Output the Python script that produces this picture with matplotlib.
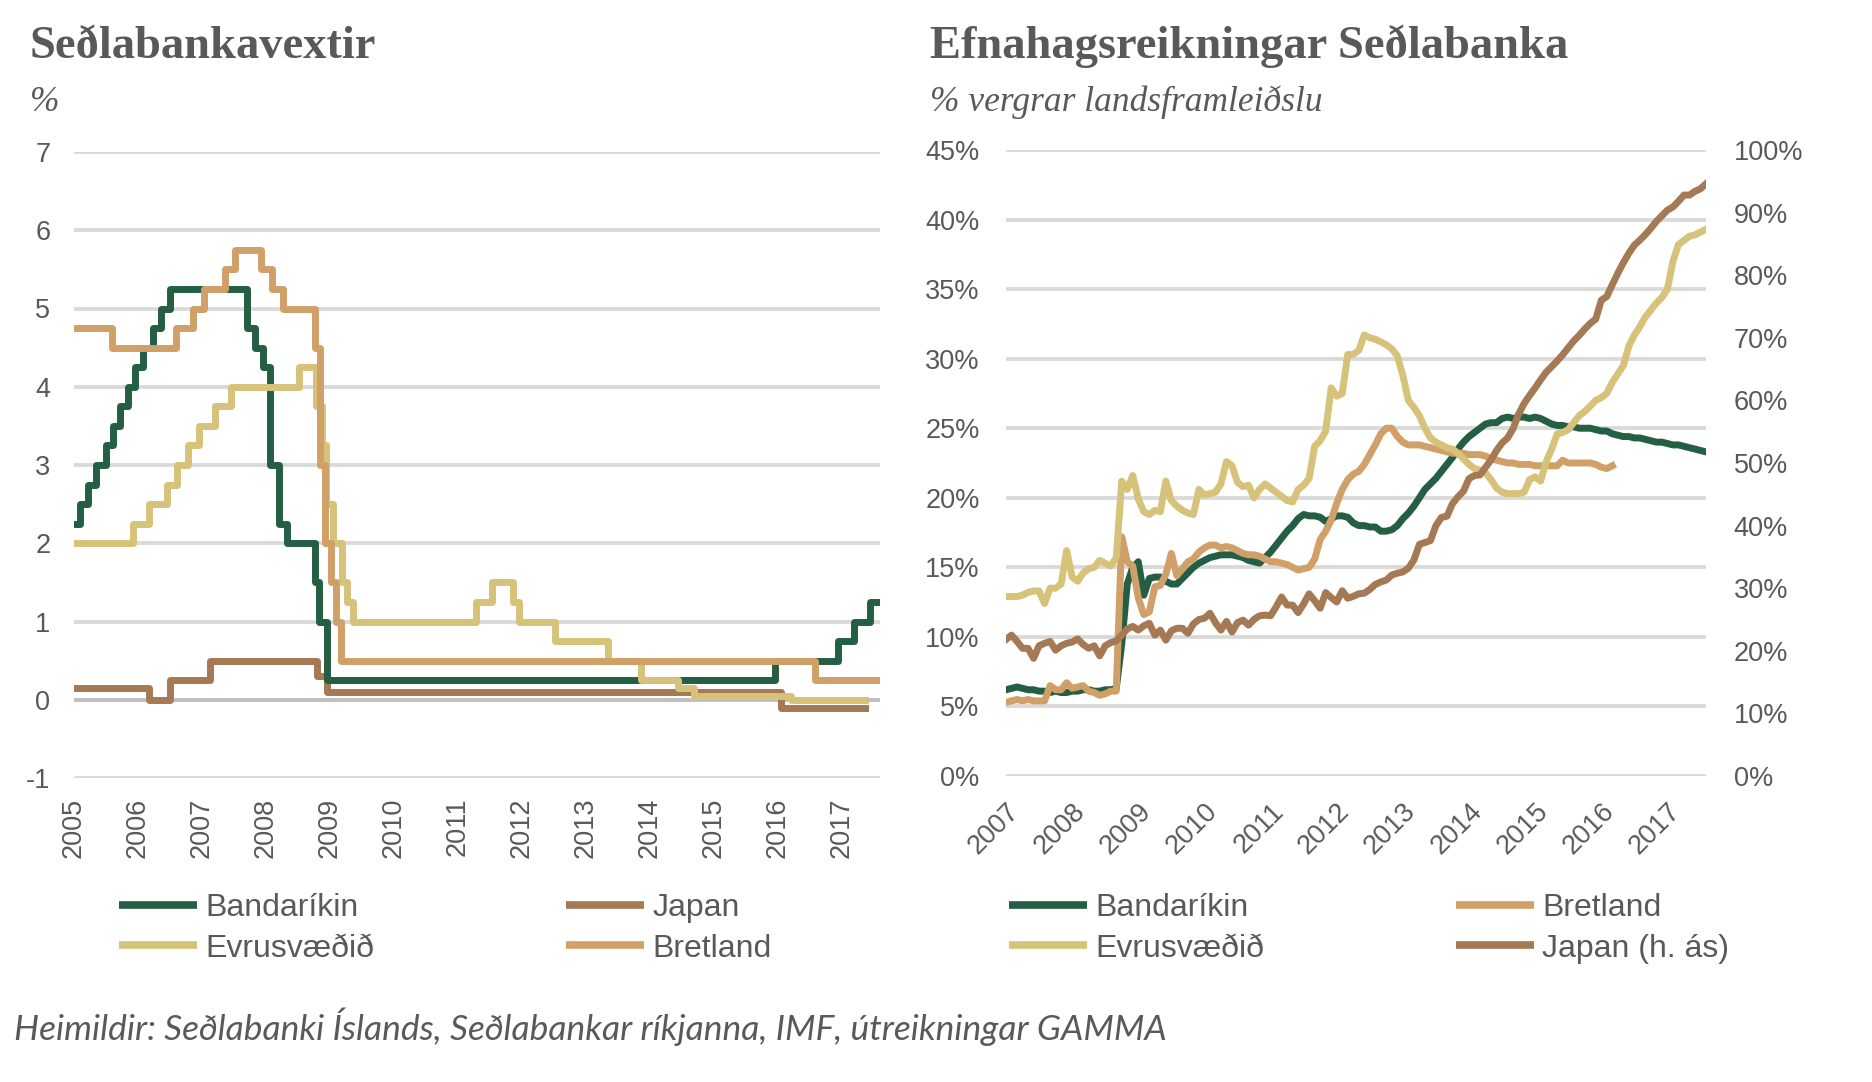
import matplotlib
matplotlib.use('Agg')
import matplotlib.pyplot as plt
from matplotlib.lines import Line2D

# colours
GREEN = '#245E43'
BROWN = '#A47953'
YELLOW = '#D7C27A'
TAN = '#D1A069'
GREY_TXT = '#595959'
GRID = '#D9D9D9'

plt.rcParams['font.family'] = ['Liberation Sans', 'DejaVu Sans']
plt.rcParams['axes.unicode_minus'] = False

# ---- left chart: policy rates (change dates as decimal years, last entry = end of series)
us_dates = [2005.0, 2005.09, 2005.22, 2005.34, 2005.50, 2005.61, 2005.72, 2005.84, 2005.95,
            2006.08, 2006.24, 2006.36, 2006.50, 2007.71, 2007.83, 2007.95, 2008.06, 2008.21,
            2008.33, 2008.77, 2008.83, 2008.96, 2015.96, 2016.95, 2017.20, 2017.45, 2017.60]
us_rates = [2.25, 2.5, 2.75, 3.0, 3.25, 3.5, 3.75, 4.0, 4.25,
            4.5, 4.75, 5.0, 5.25, 4.75, 4.5, 4.25, 3.0, 2.25,
            2.0, 1.5, 1.0, 0.25, 0.5, 0.75, 1.0, 1.25, 1.25]

ez_dates = [2005.0, 2005.93, 2006.18, 2006.45, 2006.61, 2006.78, 2006.95, 2007.20, 2007.45,
            2008.52, 2008.79, 2008.87, 2008.94, 2009.05, 2009.19, 2009.27, 2009.36, 2011.28,
            2011.53, 2011.86, 2011.95, 2012.52, 2013.35, 2013.87, 2014.44, 2014.69, 2016.21,
            2017.37]
ez_rates = [2.0, 2.25, 2.5, 2.75, 3.0, 3.25, 3.5, 3.75, 4.0,
            4.25, 3.75, 3.25, 2.5, 2.0, 1.5, 1.25, 1.0, 1.25,
            1.5, 1.25, 1.0, 0.75, 0.5, 0.25, 0.15, 0.05, 0.0,
            0.0]

uk_dates = [2005.0, 2005.59, 2006.59, 2006.86, 2007.03, 2007.36, 2007.51, 2007.93, 2008.10,
            2008.27, 2008.77, 2008.85, 2008.93, 2009.02, 2009.10, 2009.17, 2016.59, 2017.60]
uk_rates = [4.75, 4.5, 4.75, 5.0, 5.25, 5.5, 5.75, 5.5, 5.25,
            5.0, 4.5, 3.0, 2.0, 1.5, 1.0, 0.5, 0.25, 0.25]

jp_dates = [2005.0, 2006.17, 2006.50, 2007.12, 2008.80, 2008.95, 2016.06, 2017.37]
jp_rates = [0.15, 0.0, 0.25, 0.5, 0.3, 0.1, -0.1, -0.1]

left_years = list(range(2005, 2018))
left_yticks = [-1, 0, 1, 2, 3, 4, 5, 6, 7]

# ---- right chart: central bank balance sheets, % of GDP, monthly from Jan 2007
us_bs = [6.2, 6.3, 6.4, 6.3, 6.2, 6.2, 6.1, 6.1, 6.0, 6.1, 6.0, 6.0,
         6.1, 6.1, 6.2, 6.2, 6.1, 6.1, 6.2, 6.2, 6.3, 9.5, 13.8, 15.0,
         15.4, 13.0, 14.2, 14.3, 14.3, 14.0, 13.8, 13.8, 14.2, 14.6, 15.0, 15.3,
         15.5, 15.7, 15.8, 15.9, 15.9, 15.9, 15.8, 15.7, 15.5, 15.4, 15.3, 15.7,
         16.1, 16.6, 17.1, 17.6, 18.0, 18.5, 18.8, 18.7, 18.7, 18.6, 18.3, 18.5,
         18.7, 18.7, 18.6, 18.2, 18.0, 18.0, 17.9, 17.9, 17.6, 17.6, 17.7, 18.0,
         18.5, 18.9, 19.4, 20.0, 20.6, 21.0, 21.4, 21.9, 22.4, 22.9, 23.5, 24.0,
         24.4, 24.7, 25.0, 25.3, 25.4, 25.4, 25.7, 25.8, 25.7, 25.8, 25.8, 25.7,
         25.8, 25.7, 25.5, 25.3, 25.2, 25.2, 25.1, 25.1, 25.0, 25.0, 25.0, 24.9,
         24.8, 24.8, 24.6, 24.5, 24.4, 24.4, 24.3, 24.3, 24.2, 24.1, 24.0, 24.0,
         23.9, 23.8, 23.8, 23.7, 23.6, 23.5, 23.4, 23.3]

ez_bs = [12.9, 12.9, 12.9, 13.0, 13.2, 13.3, 13.3, 12.4, 13.5, 13.5, 13.8, 16.2,
         14.3, 14.0, 14.6, 14.9, 15.0, 15.5, 15.3, 15.1, 15.7, 21.2, 20.6, 21.6,
         19.9, 19.0, 18.8, 19.1, 19.0, 21.2, 19.8, 19.4, 19.1, 18.9, 18.8, 20.6,
         20.2, 20.3, 20.4, 21.0, 22.6, 22.3, 21.1, 20.8, 20.9, 20.0, 20.6, 21.0,
         20.7, 20.4, 20.1, 19.8, 19.7, 20.6, 20.9, 21.4, 23.7, 24.1, 24.8, 27.9,
         27.3, 27.5, 30.3, 30.3, 30.6, 31.7, 31.5, 31.4, 31.2, 31.0, 30.7, 30.2,
         28.8, 27.0, 26.5, 25.9, 25.0, 24.3, 24.0, 23.8, 23.6, 23.5, 23.2, 22.8,
         22.4, 22.1, 22.0, 21.8, 21.3, 20.7, 20.4, 20.3, 20.3, 20.3, 20.4, 21.3,
         21.5, 21.2, 22.6, 23.5, 24.6, 24.7, 24.9, 25.4, 25.9, 26.2, 26.6, 27.0,
         27.2, 27.5, 28.3, 28.9, 29.5, 30.9, 31.7, 32.3, 33.0, 33.5, 34.0, 34.4,
         35.0, 37.0, 38.2, 38.5, 38.8, 38.9, 39.1, 39.3]

uk_bs = [5.3, 5.4, 5.5, 5.4, 5.5, 5.4, 5.4, 5.4, 6.5, 6.2, 6.2, 6.7,
         6.3, 6.4, 6.5, 6.1, 6.0, 5.8, 5.9, 6.1, 6.1, 17.2, 15.4, 15.1,
         12.8, 11.6, 11.8, 13.6, 13.7, 14.5, 16.0, 14.4, 14.9, 15.4, 15.6, 16.1,
         16.4, 16.6, 16.6, 16.4, 16.5, 16.4, 16.2, 16.0, 15.9, 15.9, 15.8, 15.6,
         15.4, 15.4, 15.3, 15.2, 15.0, 14.8, 14.9, 15.0, 15.6, 17.0, 17.6, 18.4,
         19.6, 20.6, 21.3, 21.7, 21.9, 22.4, 23.1, 23.8, 24.6, 25.0, 25.0, 24.4,
         24.0, 23.8, 23.8, 23.8, 23.7, 23.6, 23.5, 23.4, 23.3, 23.2, 23.2, 23.2,
         23.1, 23.1, 23.1, 23.0, 22.8, 22.7, 22.6, 22.5, 22.5, 22.4, 22.4, 22.4,
         22.3, 22.3, 22.3, 22.3, 22.3, 22.7, 22.5, 22.5, 22.5, 22.5, 22.5, 22.4,
         22.2, 22.1, 22.3]

jp_bs = [21.8, 22.5, 21.5, 20.4, 20.4, 18.8, 20.8, 21.2, 21.5, 20.1, 20.8, 21.2,
         21.4, 21.9, 21.0, 20.4, 20.8, 19.2, 20.8, 21.3, 21.6, 22.5, 23.5, 23.9,
         23.3, 24.0, 24.4, 22.5, 23.3, 21.7, 23.2, 23.6, 23.6, 22.8, 24.3, 25.0,
         25.2, 26.0, 24.5, 23.3, 24.7, 23.0, 24.5, 24.9, 24.1, 25.0, 25.6, 25.7,
         25.6, 27.0, 28.6, 27.3, 27.3, 26.1, 27.5, 29.1, 28.0, 26.8, 29.3, 28.5,
         27.8, 29.6, 28.4, 28.7, 29.1, 29.2, 29.8, 30.6, 31.0, 31.3, 32.1, 32.4,
         32.6, 33.2, 34.5, 37.0, 37.3, 37.6, 40.0, 41.3, 41.5, 43.5, 44.6, 45.5,
         47.5, 48.0, 48.1, 49.3, 50.5, 52.0, 53.2, 54.0, 55.5, 57.8, 59.5, 60.8,
         62.0, 63.3, 64.5, 65.4, 66.3, 67.3, 68.4, 69.5, 70.4, 71.4, 72.3, 73.0,
         76.0, 76.6, 78.5, 80.3, 82.0, 83.5, 84.8, 85.6, 86.5, 87.5, 88.6, 89.5,
         90.4, 90.9, 91.8, 92.8, 92.8, 93.4, 93.8, 94.6]

right_years = list(range(2007, 2018))
right_yticks = [0, 5, 10, 15, 20, 25, 30, 35, 40, 45]
right_y2ticks = [0, 10, 20, 30, 40, 50, 60, 70, 80, 90, 100]


def months(n):
    return [2007 + i / 12 for i in range(n)]


W, H = 1872, 1082
fig = plt.figure(figsize=(W / 100, H / 100), dpi=100)
LW = 5

# ---------------- left chart
ax1 = fig.add_axes([74 / W, 1 - 778 / H, (880 - 74) / W, (778 - 152) / H])
ax1.plot(jp_dates, jp_rates, drawstyle='steps-post', color=BROWN, lw=LW, label='Japan')
ax1.plot(us_dates, us_rates, drawstyle='steps-post', color=GREEN, lw=LW, label='Bandaríkin')
ax1.plot(ez_dates, ez_rates, drawstyle='steps-post', color=YELLOW, lw=LW, label='Evrusvæðið')
ax1.plot(uk_dates, uk_rates, drawstyle='steps-post', color=TAN, lw=LW, label='Bretland')
ax1.axhline(0, color='#BFBFBF', lw=2.7, zorder=1)
ax1.set_xlim(2005, 2017.6)
ax1.set_ylim(-1, 7)
ax1.set_yticks(left_yticks)
ax1.set_xticks(left_years)
ax1.set_xticklabels([str(y) for y in left_years], rotation=90)
ax1.yaxis.grid(True, color=GRID, lw=2.7)
ax1.set_axisbelow(True)
ax1.tick_params(axis='y', length=0, pad=17, labelsize=19.5, labelcolor=GREY_TXT)
ax1.tick_params(axis='x', length=0, pad=14, labelsize=19.5, labelcolor=GREY_TXT)
for s in ax1.spines.values():
    s.set_visible(False)

# ---------------- right chart
ax2 = fig.add_axes([1006 / W, 1 - 776 / H, (1706 - 1006) / W, (776 - 150) / H])
ax2.plot(months(len(us_bs)), us_bs, color=GREEN, lw=LW)
ax2.plot(months(len(uk_bs)), uk_bs, color=TAN, lw=LW)
ax2.plot(months(len(ez_bs)), ez_bs, color=YELLOW, lw=LW)
ax2.set_xlim(2007, 2007 + 127 / 12)
ax2.set_ylim(0, 45)
ax2.set_yticks(right_yticks)
ax2.set_yticklabels([f'{v}%' for v in right_yticks])
ax2.set_xticks(right_years)
ax2.set_xticklabels([str(y) for y in right_years], rotation=45, ha='right',
                    rotation_mode='anchor')
ax2.yaxis.grid(True, color=GRID, lw=2.7)
ax2.set_axisbelow(True)
ax2.tick_params(axis='y', length=0, pad=19, labelsize=19.5, labelcolor=GREY_TXT)
ax2.tick_params(axis='x', length=0, pad=16, labelsize=19.5, labelcolor=GREY_TXT)

ax3 = ax2.twinx()
ax3.plot(months(len(jp_bs)), jp_bs, color=BROWN, lw=LW)
ax3.set_ylim(0, 100)
ax3.set_yticks(right_y2ticks)
ax3.set_yticklabels([f'{v}%' for v in right_y2ticks])
ax3.tick_params(axis='y', length=0, pad=20, labelsize=19.5, labelcolor=GREY_TXT)
for a in (ax2, ax3):
    for s in a.spines.values():
        s.set_visible(False)

# ---------------- legends
leg_kw = dict(loc='upper left', ncol=2, frameon=False, fontsize=23, labelcolor=GREY_TXT,
              handlelength=2.45, handletextpad=0.25, columnspacing=6.0,
              labelspacing=0.33, borderpad=0, borderaxespad=0)


def handle(c):
    return Line2D([], [], color=c, lw=LW + 0.5, solid_capstyle='butt')


fig.legend([handle(GREEN), handle(YELLOW), handle(BROWN), handle(TAN)],
           ['Bandaríkin', 'Evrusvæðið', 'Japan', 'Bretland'],
           bbox_to_anchor=(119 / W, 1 - 893 / H), **leg_kw)
fig.legend([handle(GREEN), handle(YELLOW), handle(TAN), handle(BROWN)],
           ['Bandaríkin', 'Evrusvæðið', 'Bretland', 'Japan (h. ás)'],
           bbox_to_anchor=(1009 / W, 1 - 893 / H), **leg_kw)

# ---------------- titles and source
title_kw = dict(family=['Liberation Serif', 'DejaVu Serif'], weight='bold', size=33.5,
                color=GREY_TXT, va='baseline', ha='left')
sub_kw = dict(family=['Liberation Serif', 'DejaVu Serif'], style='italic', size=25.5,
              color=GREY_TXT, va='baseline', ha='left')
fig.text(30 / W, 1 - 58 / H, 'Seðlabankavextir', **title_kw)
fig.text(30 / W, 1 - 111 / H, '%', **sub_kw)
fig.text(930 / W, 1 - 58 / H, 'Efnahagsreikningar Seðlabanka', **title_kw)
fig.text(930 / W, 1 - 111 / H, '% vergrar landsframleiðslu', **sub_kw)
fig.text(14 / W, 1 - 1027 / H,
         'Heimildir: Seðlabanki Íslands, Seðlabankar ríkjanna, IMF, útreikningar GAMMA',
         family=['Lato', 'DejaVu Sans'], style='italic', size=25.5, color=GREY_TXT,
         va='center', ha='left')

fig.savefig('out.png', dpi=100, facecolor='white')
